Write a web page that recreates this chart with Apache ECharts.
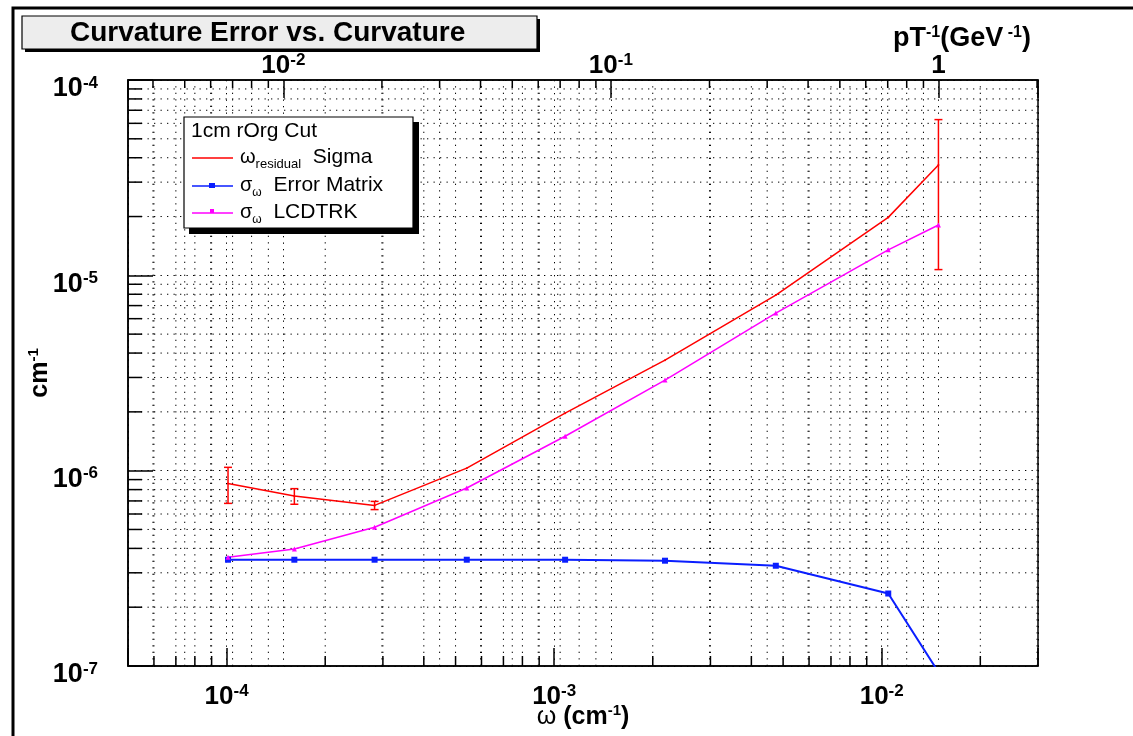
<!DOCTYPE html>
<html>
<head>
<meta charset="utf-8">
<title>Curvature Error vs. Curvature</title>
<script src="https://cdn.jsdelivr.net/npm/echarts@6/dist/echarts.min.js"></script>
<style>
  html, body { margin: 0; padding: 0; background: #fff; }
  #chart { width: 1133px; height: 736px; }
</style>
</head>
<body>
<div id="chart"></div>
<script>
// curvature of each point, cm^-1
const omega = [1.01e-4, 1.61e-4, 2.83e-4, 5.41e-4, 1.08e-3, 2.18e-3, 4.75e-3, 1.047e-2, 1.49e-2];
// omega residual sigma and its error, cm^-1
const residualSigma = [8.6e-7, 7.41e-7, 6.64e-7, 1.03e-6, 1.97e-6, 3.68e-6, 7.92e-6, 1.98e-5, 3.67e-5];
const residualErr = [1.8e-7, 0.68e-7, 0.32e-7, 0.01e-6, 0.02e-6, 0.04e-6, 0.08e-6, 0.2e-6, 2.6e-5];
// sigma omega from the error matrix
const errorMatrix = [3.5e-7, 3.5e-7, 3.5e-7, 3.5e-7, 3.5e-7, 3.46e-7, 3.26e-7, 2.35e-7, 9.3e-8];
// sigma omega from LCDTRK
const lcdtrk = [3.6e-7, 3.97e-7, 5.13e-7, 8.15e-7, 1.5e-6, 2.91e-6, 6.41e-6, 1.35e-5, 1.81e-5];

// axes
const xRange = [5e-5, 3e-2];
const yRange = [1e-7, 1e-4];
const omegaAtInvPtOne = 0.0149; // omega where pT^-1 = 1 GeV^-1
const topRange = [xRange[0] / omegaAtInvPtOne, xRange[1] / omegaAtInvPtOne];
const minorSteps = [2, 3, 4, 5, 6, 7, 8, 9];
const xDecades = [1e-5, 1e-4, 1e-3, 1e-2];
const yDecades = [1e-7, 1e-6, 1e-5];
const topDecades = [1e-3, 1e-2, 1e-1, 1];

const FONT = '"Liberation Sans", Arial, Helvetica, sans-serif';

function minorTicks(decades, range) {
  const out = [];
  decades.forEach(d => minorSteps.forEach(m => {
    const v = d * m;
    if (v > range[0] * 1.0001 && v < range[1] * 0.9999) out.push(v);
  }));
  return out;
}

function powLabel(v) {
  const e = Math.log10(v);
  if (Math.abs(e - Math.round(e)) > 1e-6) return '';
  const n = Math.round(e);
  return n === 0 ? '{b|1}' : '{b|10}{s|' + n + '}';
}

function labelRich(size, supSize) {
  return {
    b: { fontFamily: FONT, fontWeight: 'bold', fontSize: size, lineHeight: size + 2, color: '#000' },
    s: { fontFamily: FONT, fontWeight: 'bold', fontSize: supSize, lineHeight: supSize, verticalAlign: 'top', color: '#000' }
  };
}

const dotted = { color: '#000', width: 1, type: [1.3, 5.2] };
const dash = [1.3, 5.2];

// dotted grid line plus short inside tick for a minor x tick
function xMinorItem(tickLen, fromTop) {
  return function (params, api) {
    const v = api.value(0);
    const lo = api.coord([v, yRange[0]]);
    const hi = api.coord([v, yRange[1]]);
    const base = fromTop ? hi : lo;
    const dir = fromTop ? 1 : -1;
    return {
      type: 'group',
      children: [
        { type: 'line', shape: { x1: lo[0], y1: lo[1], x2: hi[0], y2: hi[1] },
          style: { stroke: '#000', lineWidth: 1, lineDash: dash } },
        { type: 'line', shape: { x1: base[0], y1: base[1], x2: base[0], y2: base[1] + dir * tickLen },
          style: { stroke: '#000', lineWidth: 1.5 } }
      ]
    };
  };
}

function yMinorItem(params, api) {
  const v = api.value(1);
  const l = api.coord([xRange[0], v]);
  const r = api.coord([xRange[1], v]);
  return {
    type: 'group',
    children: [
      { type: 'line', shape: { x1: l[0], y1: l[1], x2: r[0], y2: r[1] },
        style: { stroke: '#000', lineWidth: 1, lineDash: dash } },
      { type: 'line', shape: { x1: l[0], y1: l[1], x2: l[0] + 14, y2: l[1] },
        style: { stroke: '#000', lineWidth: 1.5 } }
    ]
  };
}

function errorBarItem(params, api) {
  const x = api.value(0);
  const lo = api.coord([x, api.value(1)]);
  const hi = api.coord([x, api.value(2)]);
  const children = [];
  if (lo[1] - hi[1] > 3) {
    const st = { stroke: '#ff0000', lineWidth: 1.5 };
    children.push({ type: 'line', shape: { x1: lo[0], y1: lo[1], x2: hi[0], y2: hi[1] }, style: st });
    children.push({ type: 'line', shape: { x1: lo[0] - 4, y1: lo[1], x2: lo[0] + 4, y2: lo[1] }, style: st });
    children.push({ type: 'line', shape: { x1: hi[0] - 4, y1: hi[1], x2: hi[0] + 4, y2: hi[1] }, style: st });
  }
  return { type: 'group', children: children };
}

const chart = echarts.init(document.getElementById('chart'), null, { renderer: 'canvas' });

const legendText = {
  g: { fontFamily: FONT, fontSize: 20, color: '#000', lineHeight: 28 },
  sub: { fontFamily: FONT, fontSize: 13, color: '#000', lineHeight: 14, verticalAlign: 'bottom' },
  subg: { fontFamily: FONT, fontSize: 12, color: '#000', lineHeight: 14, verticalAlign: 'bottom' },
  t: { fontFamily: FONT, fontSize: 21, color: '#000', lineHeight: 28 }
};

chart.setOption({
  animation: false,
  backgroundColor: '#fff',
  grid: { left: 128, right: 95, top: 80, bottom: 70, outerBoundsMode: 'none', containLabel: false,
    show: true, borderColor: '#000', borderWidth: 1.5, backgroundColor: '#fff' },
  xAxis: [{
    type: 'log',
    logBase: 10,
    min: xRange[0],
    max: xRange[1],
    position: 'bottom',
    name: '{g|ω }{b|(cm}{s|-1}{b|)}',
    nameLocation: 'middle',
    nameGap: 37,
    nameMoveOverlap: false,
    nameTextStyle: { rich: {
      g: { fontFamily: FONT, fontSize: 25, color: '#000', lineHeight: 28 },
      b: { fontFamily: FONT, fontWeight: 'bold', fontSize: 25, color: '#000', lineHeight: 28 },
      s: { fontFamily: FONT, fontWeight: 'bold', fontSize: 15, color: '#000', lineHeight: 15, verticalAlign: 'top' }
    } },
    axisLine: { show: true, lineStyle: { color: '#000', width: 1.5 } },
    axisTick: { show: true, inside: true, length: 18, lineStyle: { color: '#000', width: 1.5 } },
    axisLabel: { margin: 17, formatter: powLabel, rich: labelRich(26, 17) },
    splitLine: { show: true, lineStyle: dotted }
  }, {
    type: 'log',
    logBase: 10,
    min: topRange[0],
    max: topRange[1],
    position: 'top',
    axisLine: { show: true, lineStyle: { color: '#000', width: 1.5 } },
    axisTick: { show: true, inside: true, length: 18, lineStyle: { color: '#000', width: 1.5 } },
    axisLabel: { margin: 0, formatter: powLabel, rich: labelRich(26, 17) },
    splitLine: { show: true, lineStyle: dotted }
  }],
  yAxis: [{
    type: 'log',
    logBase: 10,
    min: yRange[0],
    max: yRange[1],
    name: '{b|cm}{s|-1}',
    nameLocation: 'middle',
    nameRotate: 90,
    nameGap: 74,
    nameMoveOverlap: false,
    nameTextStyle: { rich: {
      b: { fontFamily: FONT, fontWeight: 'bold', fontSize: 25, color: '#000', lineHeight: 28 },
      s: { fontFamily: FONT, fontWeight: 'bold', fontSize: 15, color: '#000', lineHeight: 15, verticalAlign: 'top' }
    } },
    axisLine: { show: true, lineStyle: { color: '#000', width: 1.5 } },
    axisTick: { show: true, inside: true, length: 25, lineStyle: { color: '#000', width: 1.5 } },
    axisLabel: { margin: 30, padding: [18, 0, 0, 0], formatter: powLabel, rich: labelRich(27, 17) },
    splitLine: { show: true, lineStyle: dotted }
  }],
  series: [
    { type: 'custom', name: 'xMinor', xAxisIndex: 0, yAxisIndex: 0, silent: true, z: 1,
      data: minorTicks(xDecades, xRange).map(v => [v, yRange[0]]), renderItem: xMinorItem(10, false) },
    { type: 'custom', name: 'topMinor', xAxisIndex: 1, yAxisIndex: 0, silent: true, z: 1,
      data: minorTicks(topDecades, topRange).map(v => [v, yRange[0]]), renderItem: xMinorItem(8, true) },
    { type: 'custom', name: 'yMinor', xAxisIndex: 0, yAxisIndex: 0, silent: true, z: 1,
      data: minorTicks(yDecades, yRange).map(v => [xRange[0], v]), renderItem: yMinorItem },
    { type: 'line', name: 'ω residual Sigma', z: 5,
      data: omega.map((x, i) => [x, residualSigma[i]]),
      lineStyle: { color: '#ff0000', width: 1.5 }, itemStyle: { color: '#ff0000' },
      symbol: 'circle', symbolSize: 2 },
    { type: 'custom', name: 'residualErr', z: 5,
      data: omega.map((x, i) => [x, residualSigma[i] - residualErr[i], residualSigma[i] + residualErr[i]]),
      renderItem: errorBarItem },
    { type: 'line', name: 'σω Error Matrix', z: 5,
      data: omega.map((x, i) => [x, errorMatrix[i]]),
      lineStyle: { color: '#0a1eff', width: 2 }, itemStyle: { color: '#0a1eff' },
      symbol: 'rect', symbolSize: 6 },
    { type: 'line', name: 'σω LCDTRK', z: 5,
      data: omega.map((x, i) => [x, lcdtrk[i]]),
      lineStyle: { color: '#ff00ff', width: 1.5 }, itemStyle: { color: '#ff00ff' },
      symbol: 'triangle', symbolSize: 5 }
  ],
  graphic: [
    // outer canvas frame
    { type: 'rect', z: 100, shape: { x: 13, y: 8, width: 1200, height: 800 },
      style: { fill: 'none', stroke: '#000', lineWidth: 3 } },
    // title box
    { type: 'rect', z: 100, shape: { x: 25, y: 19, width: 515, height: 33 }, style: { fill: '#000' } },
    { type: 'rect', z: 100, shape: { x: 22, y: 16, width: 515, height: 33 },
      style: { fill: '#ededed', stroke: '#000', lineWidth: 1.2 } },
    { type: 'text', z: 101, x: 70, y: 33,
      style: { text: 'Curvature Error vs. Curvature', fontFamily: FONT, fontWeight: 'bold', fontSize: 28,
        fill: '#000', verticalAlign: 'middle' } },
    // top axis title
    { type: 'text', z: 101, x: 893, y: 39,
      style: { text: '{b|pT}{s|-1}{b|(GeV}{s| -1}{b|)}', verticalAlign: 'middle',
        rich: labelRich(27, 16) } },
    // legend
    { type: 'rect', z: 100, shape: { x: 189, y: 122, width: 230, height: 112 }, style: { fill: '#000' } },
    { type: 'rect', z: 100, shape: { x: 184, y: 117, width: 229, height: 111 },
      style: { fill: '#fff', stroke: '#000', lineWidth: 1.2 } },
    { type: 'text', z: 101, x: 191, y: 131,
      style: { text: '1cm rOrg Cut', fontFamily: FONT, fontSize: 21, fill: '#000', verticalAlign: 'middle' } },
    { type: 'line', z: 101, shape: { x1: 192, y1: 158, x2: 233, y2: 158 }, style: { stroke: '#ff0000', lineWidth: 1.5 } },
    { type: 'line', z: 101, shape: { x1: 192, y1: 186, x2: 233, y2: 186 }, style: { stroke: '#0a1eff', lineWidth: 1.5 } },
    { type: 'rect', z: 101, shape: { x: 209, y: 183, width: 6, height: 5 }, style: { fill: '#0a1eff' } },
    { type: 'line', z: 101, shape: { x1: 192, y1: 213, x2: 233, y2: 213 }, style: { stroke: '#ff00ff', lineWidth: 1.5 } },
    { type: 'rect', z: 101, shape: { x: 210, y: 209, width: 4, height: 4 }, style: { fill: '#ff00ff' } },
    { type: 'text', z: 101, x: 240, y: 157,
      style: { text: '{g|ω}{sub|residual}{t|  Sigma}', verticalAlign: 'middle', rich: legendText } },
    { type: 'text', z: 101, x: 240, y: 185,
      style: { text: '{g|σ}{subg|ω}{t|  Error Matrix}', verticalAlign: 'middle', rich: legendText } },
    { type: 'text', z: 101, x: 240, y: 212,
      style: { text: '{g|σ}{subg|ω}{t|  LCDTRK}', verticalAlign: 'middle', rich: legendText } }
  ]
});
</script>
</body>
</html>
